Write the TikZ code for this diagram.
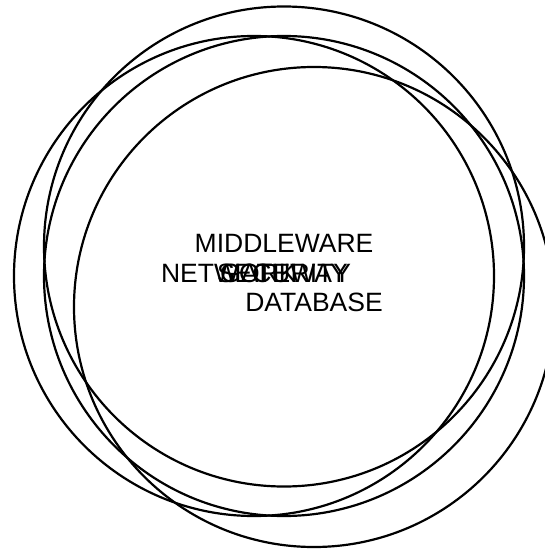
\documentclass[tikz,border=0pt]{standalone}
\usepackage{fontspec}
\setmainfont{Liberation Sans}
\begin{document}
\begin{tikzpicture}[x=1pt,y=-1pt,
  ring/.style={draw=black,line width=2.2pt},
  lbl/.style={font=\fontsize{26.5}{30}\selectfont,inner sep=0pt,text=black}]
\useasboundingbox[fill=white] (0,0) rectangle (545,549);
\coordinate (cM) at (284,246.5);
\coordinate (cN) at (254,276);
\coordinate (cS) at (284,276);
\coordinate (cD) at (314,307);
\draw[ring] (cM) circle[radius=240];
\draw[ring] (cN) circle[radius=240];
\draw[ring] (cS) circle[radius=240];
\draw[ring] (cD) circle[radius=240];
\node[lbl,anchor=base] (mid) at (284,252) {MIDDLEWARE};
\node[lbl,anchor=base west] (net) at (160.8,282) {NETWORK};
\node[lbl,anchor=base] (sec) at (284,282) {SECURITY};
\node[lbl,anchor=base] (gw) at (284,282) {GATEWAY};
\node[lbl,anchor=base] (db) at (314,311) {DATABASE};
\end{tikzpicture}
\end{document}
